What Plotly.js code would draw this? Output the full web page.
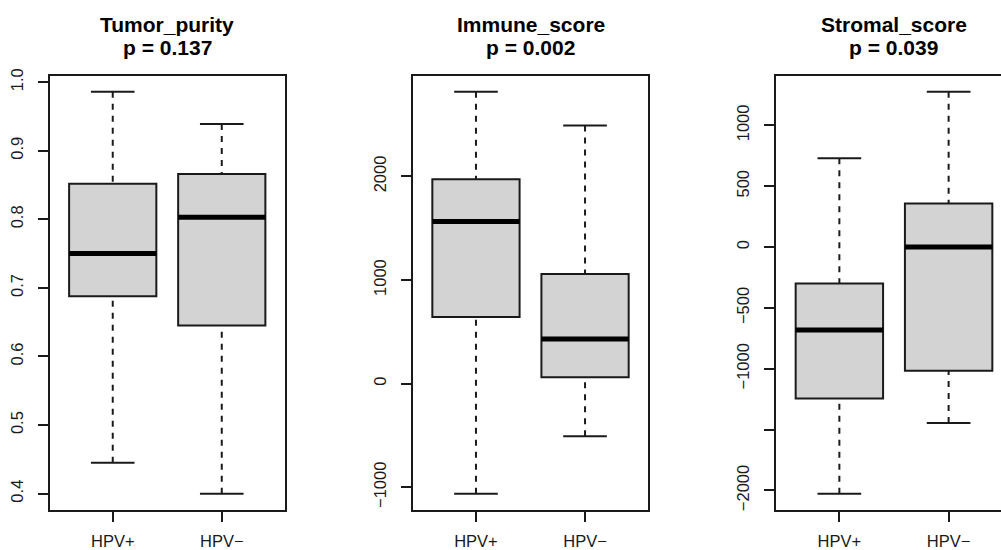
<!DOCTYPE html>
<html>
<head>
<meta charset="utf-8">
<script src="https://cdn.plot.ly/plotly-3.0.1.min.js"></script>
<style>
html,body{margin:0;padding:0;overflow:hidden;background:#fff;width:1001px;height:550px;}
#chart{width:1020px;height:550px;}
</style>
</head>
<body>
<div id="chart"></div>
<script>
// ---- data ----
const groups = ["HPV+", "HPV\u2212"];
const panelNames = ["Tumor_purity", "Immune_score", "Stromal_score"];
const pLabels = ["p = 0.137", "p = 0.002", "p = 0.039"];

const purityLower  = [0.445, 0.400];
const purityQ1     = [0.688, 0.645];
const purityMedian = [0.750, 0.803];
const purityQ3     = [0.852, 0.866];
const purityUpper  = [0.986, 0.939];

const immuneLower  = [-1061, -508];
const immuneQ1     = [644, 61];
const immuneMedian = [1566, 431];
const immuneQ3     = [1973, 1058];
const immuneUpper  = [2817, 2492];

const stromalLower  = [-2026, -1446];
const stromalQ1     = [-1244, -1016];
const stromalMedian = [-681, 0];
const stromalQ3     = [-300, 358];
const stromalUpper  = [730, 1276];

const purityTickVals = [0.4, 0.5, 0.6, 0.7, 0.8, 0.9, 1.0];
const purityTickText = ["0.4", "0.5", "0.6", "0.7", "0.8", "0.9", "1.0"];
const immuneTickVals = [-1000, 0, 1000, 2000];
const immuneTickText = ["\u22121000", "0", "1000", "2000"];
const stromalTickVals = [-2000, -1500, -1000, -500, 0, 500, 1000];
const stromalTickText = ["\u22122000", "", "\u22121000", "\u2212500", "0", "500", "1000"];

// ---- build ----
const FONT = "Liberation Sans, Arial, Helvetica, sans-serif";
const INK = "#1a1a1a";
const positions = [1, 2];
const boxWidth = 0.8;
const stapleHalf = 0.2;

const panels = [
  {lo: purityLower, q1: purityQ1, med: purityMedian, q3: purityQ3, hi: purityUpper, tv: purityTickVals, tt: purityTickText},
  {lo: immuneLower, q1: immuneQ1, med: immuneMedian, q3: immuneQ3, hi: immuneUpper, tv: immuneTickVals, tt: immuneTickText},
  {lo: stromalLower, q1: stromalQ1, med: stromalMedian, q3: stromalQ3, hi: stromalUpper, tv: stromalTickVals, tt: stromalTickText}
];

const xDomains = [[0.04853, 0.27941], [0.40461, 0.63559], [0.76078, 0.99216]];
const yDomain = [0.07327, 0.86236];

const traces = [];
const layout = {
  width: 1020, height: 550,
  margin: {l: 0, r: 0, t: 0, b: 0},
  paper_bgcolor: "#fff", plot_bgcolor: "#fff",
  showlegend: false,
  font: {family: FONT, color: INK},
  annotations: []
};

panels.forEach((p, i) => {
  const sfx = i === 0 ? "" : String(i + 1);
  const xa = "x" + sfx, ya = "y" + sfx;

  // box body (whiskers drawn separately, dashed)
  traces.push({
    type: "box", xaxis: xa, yaxis: ya,
    x: positions, q1: p.q1, median: p.med, q3: p.q3,
    lowerfence: p.q1, upperfence: p.q3,
    width: boxWidth, whiskerwidth: 0, boxpoints: false,
    fillcolor: "#d3d3d3",
    line: {color: INK, width: 2},
    hoverinfo: "skip"
  });

  // dashed whiskers
  const wx = [], wy = [];
  positions.forEach((pos, k) => {
    wx.push(pos, pos, null, pos, pos, null);
    wy.push(p.hi[k], p.q3[k], null, p.lo[k], p.q1[k], null);
  });
  traces.push({type: "scatter", mode: "lines", xaxis: xa, yaxis: ya, x: wx, y: wy,
    line: {color: INK, width: 2, dash: "6px,6px"}, hoverinfo: "skip"});

  // staples
  const sx = [], sy = [];
  positions.forEach((pos, k) => {
    sx.push(pos - stapleHalf, pos + stapleHalf, null, pos - stapleHalf, pos + stapleHalf, null);
    sy.push(p.hi[k], p.hi[k], null, p.lo[k], p.lo[k], null);
  });
  traces.push({type: "scatter", mode: "lines", xaxis: xa, yaxis: ya, x: sx, y: sy,
    line: {color: INK, width: 2}, hoverinfo: "skip"});

  // thick medians
  const mx = [], my = [];
  positions.forEach((pos, k) => {
    mx.push(pos - boxWidth / 2, pos + boxWidth / 2, null);
    my.push(p.med[k], p.med[k], null);
  });
  traces.push({type: "scatter", mode: "lines", xaxis: xa, yaxis: ya, x: mx, y: my,
    line: {color: "#000", width: 5}, hoverinfo: "skip"});

  // R-style 4% padding
  const mn = Math.min(...p.lo), mxv = Math.max(...p.hi);
  const pad = (mxv - mn) * 0.04;

  layout["xaxis" + sfx] = {
    domain: xDomains[i], anchor: ya,
    range: [0.42, 2.58],
    tickvals: positions, ticktext: groups,
    ticks: "outside", ticklen: 10, tickwidth: 2, tickcolor: INK,
    ticklabelstandoff: 5,
    showline: true, mirror: true, linecolor: INK, linewidth: 2,
    showgrid: false, zeroline: false, fixedrange: true,
    tickfont: {family: FONT, size: 16.5, color: INK}
  };
  layout["yaxis" + sfx] = {
    domain: yDomain, anchor: xa,
    range: [mn - pad, mxv + pad],
    tickvals: p.tv, ticktext: p.tt, tickangle: -90,
    ticks: "outside", ticklen: 10, tickwidth: 2, tickcolor: INK,
    ticklabelstandoff: 8,
    showline: true, mirror: true, linecolor: INK, linewidth: 2,
    showgrid: false, zeroline: false, fixedrange: true,
    tickfont: {family: FONT, size: 16.5, color: INK}
  };

  layout.annotations.push({
    xref: xa + " domain", yref: "paper", x: 0.5, y: 1 - 24.3 / 550,
    xanchor: "center", yanchor: "middle", showarrow: false,
    text: "<b>" + panelNames[i] + "</b>",
    font: {family: FONT, size: 21, color: "#000"}
  });
  layout.annotations.push({
    xref: xa + " domain", yref: "paper", x: 0.5, y: 1 - 47 / 550,
    xanchor: "center", yanchor: "middle", showarrow: false,
    text: "<b>" + pLabels[i] + "</b>",
    font: {family: FONT, size: 21, color: "#000"}
  });
});

Plotly.newPlot("chart", traces, layout, {displayModeBar: false, staticPlot: true});
</script>
</body>
</html>
